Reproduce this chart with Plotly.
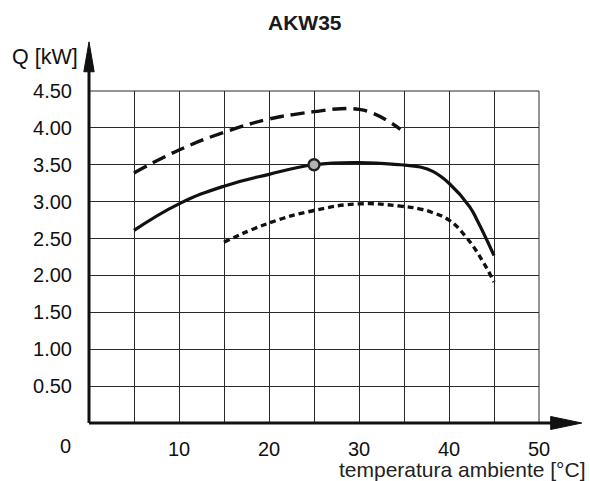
import plotly.graph_objects as go

# Capacity curves Q [kW] vs ambient temperature [°C]
t_upper = [5, 10, 15, 20, 22.7, 25, 28, 30, 31.5, 33.4, 34.6]
q_upper = [3.39, 3.70, 3.94, 4.12, 4.18, 4.22, 4.26, 4.25, 4.20, 4.08, 3.98]

t_nominal = [5, 10, 15, 20, 25, 30, 34.6, 36.8, 38.2, 40, 42.3, 43.2, 45]
q_nominal = [2.61, 2.97, 3.21, 3.37, 3.50, 3.53, 3.50, 3.47, 3.41, 3.25, 2.93, 2.73, 2.27]

t_lower = [15, 20, 25, 30, 34.6, 36.8, 38.2, 40, 41.9, 43.8, 45]
q_lower = [2.45, 2.71, 2.88, 2.97, 2.94, 2.90, 2.85, 2.75, 2.52, 2.18, 1.91]

# Rated operating point
t_point = [25]
q_point = [3.50]

x_ticks = [0, 10, 20, 30, 40, 50]
x_ticktext = ["", "10", "20", "30", "40", "50"]
y_ticks = [0.5, 1.0, 1.5, 2.0, 2.5, 3.0, 3.5, 4.0, 4.5]

FONT = "Arial, Liberation Sans, sans-serif"
INK = "#111111"
GRID = "#2a2a2a"
SMOOTH = 1.3

fig = go.Figure()
fig.add_trace(go.Scatter(x=t_upper, y=q_upper, mode="lines",
                         line=dict(color=INK, width=3.4, dash="14px,7px", shape="spline", smoothing=SMOOTH)))
fig.add_trace(go.Scatter(x=t_nominal, y=q_nominal, mode="lines",
                         line=dict(color=INK, width=3.2, shape="spline", smoothing=SMOOTH)))
fig.add_trace(go.Scatter(x=t_lower, y=q_lower, mode="lines",
                         line=dict(color=INK, width=3.4, dash="6px,4px", shape="spline", smoothing=SMOOTH)))
fig.add_trace(go.Scatter(x=t_point, y=q_point, mode="markers",
                         marker=dict(size=11, color="#b3b3b3", line=dict(color="#222222", width=2.4))))

# Frame lines on top/right, axis lines with arrowheads (paper coordinates)
axis_shapes = [
    dict(type="line", xref="paper", yref="paper", x0=0, y0=1, x1=1, y1=1,
         line=dict(color=GRID, width=1)),
    dict(type="line", xref="paper", yref="paper", x0=1, y0=0, x1=1, y1=1,
         line=dict(color=GRID, width=1)),
    dict(type="line", xref="paper", yref="paper", x0=0, y0=0, x1=1.04, y1=0,
         line=dict(color=INK, width=3)),
    dict(type="path", xref="paper", yref="paper",
         path="M 1.026 -0.0196 L 1.095 0 L 1.026 0.0196 Z",
         fillcolor=INK, line=dict(color=INK, width=1)),
    dict(type="line", xref="paper", yref="paper", x0=0, y0=0, x1=0, y1=1.06,
         line=dict(color=INK, width=3)),
    dict(type="path", xref="paper", yref="paper",
         path="M -0.0115 1.058 L 0 1.148 L 0.0115 1.058 Z",
         fillcolor=INK, line=dict(color=INK, width=1)),
]

fig.update_layout(
    width=590, height=481,
    margin=dict(l=89, r=51, t=91, b=58),
    paper_bgcolor="white", plot_bgcolor="white",
    showlegend=False,
    font=dict(family=FONT, size=20, color=INK),
    shapes=axis_shapes,
    annotations=[
        dict(text="<b>AKW35</b>", xref="paper", yref="paper", x=0.48, y=1.207,
             xanchor="center", yanchor="middle", showarrow=False,
             font=dict(family=FONT, size=21, color="#1a1a1a")),
        dict(text="Q [kW]", xref="paper", yref="paper", x=-0.02, y=1.103,
             xanchor="right", yanchor="middle", showarrow=False,
             font=dict(family=FONT, size=21.5, color=INK)),
        dict(text="0", xref="paper", yref="paper", x=-0.052, y=-0.07,
             xanchor="center", yanchor="middle", showarrow=False,
             font=dict(family=FONT, size=20, color=INK)),
        dict(text="temperatura ambiente [°C]", xref="paper", yref="paper", x=1.108, y=-0.14,
             xanchor="right", yanchor="middle", showarrow=False,
             font=dict(family=FONT, size=21, color="#222222")),
    ],
)

fig.update_xaxes(
    range=[0, 50], tickmode="array", tickvals=x_ticks, ticktext=x_ticktext,
    showgrid=True, gridcolor=GRID, gridwidth=1, zeroline=False, showline=False,
    ticks="", ticklabelstandoff=12,
    minor=dict(dtick=5, showgrid=True, gridcolor=GRID, gridwidth=1),
    tickfont=dict(family=FONT, size=20, color=INK),
)
fig.update_yaxes(
    range=[0, 4.5], tickmode="array", tickvals=y_ticks, tickformat=".2f",
    showgrid=True, gridcolor=GRID, gridwidth=1, zeroline=False, showline=False,
    ticks="", ticklabelstandoff=16,
    tickfont=dict(family=FONT, size=20, color=INK),
)

fig.write_html("out.html")
